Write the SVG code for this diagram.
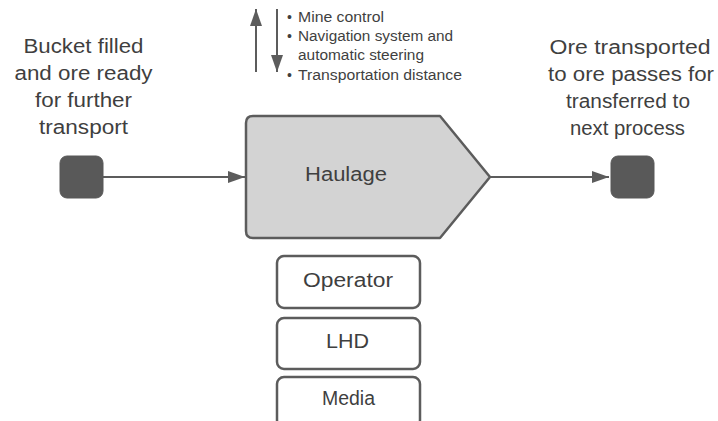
<svg xmlns="http://www.w3.org/2000/svg" width="718" height="421" viewBox="0 0 718 421">
  <defs>
    <style>
      text { font-family: "Liberation Sans", Arial, sans-serif; fill: #3f3f3f; }
      .lbl { font-size: 20px; text-anchor: middle; }
      .note { font-size: 14px; }
      .term { fill: #595959; stroke: #595959; stroke-width: 1; }
      .box { fill: #ffffff; stroke: #5c5c5c; stroke-width: 2.5; }
      .proc { fill: #d3d3d3; stroke: #5c5c5c; stroke-width: 2.5; stroke-linejoin: round; }
      .conn { stroke: #5c5c5c; stroke-width: 2; fill: none; }
    </style>
    <marker id="arr" viewBox="0 0 17 12" refX="17" refY="6" markerWidth="17" markerHeight="12" markerUnits="userSpaceOnUse" orient="auto">
      <path d="M0,0 L17,6 L0,12 Z" fill="#5c5c5c"/>
    </marker>
  </defs>

  <rect width="718" height="421" fill="#ffffff"/>

  <!-- connectors -->
  <g id="connectors">
    <line class="conn" x1="103" y1="177" x2="245" y2="177" marker-end="url(#arr)"/>
    <line class="conn" x1="490" y1="177" x2="609" y2="177" marker-end="url(#arr)"/>
    <line class="conn" x1="256" y1="72" x2="256" y2="9" marker-end="url(#arr)"/>
    <line class="conn" x1="277" y1="9" x2="277" y2="72" marker-end="url(#arr)"/>
  </g>

  <!-- start terminal -->
  <g id="start">
    <rect class="term" x="60" y="156" width="43" height="42" rx="7"/>
    <text class="lbl" x="83.5" y="53" textLength="120" lengthAdjust="spacingAndGlyphs">Bucket filled</text>
    <text class="lbl" x="83.5" y="80" textLength="138" lengthAdjust="spacingAndGlyphs">and ore ready</text>
    <text class="lbl" x="83.5" y="107" textLength="97" lengthAdjust="spacingAndGlyphs">for further</text>
    <text class="lbl" x="83.5" y="134" textLength="89" lengthAdjust="spacingAndGlyphs">transport</text>
  </g>

  <!-- end terminal -->
  <g id="end">
    <rect class="term" x="611" y="156" width="43" height="42" rx="7"/>
    <text class="lbl" x="630" y="54" textLength="161" lengthAdjust="spacingAndGlyphs">Ore transported</text>
    <text class="lbl" x="631" y="81" textLength="166" lengthAdjust="spacingAndGlyphs">to ore passes for</text>
    <text class="lbl" x="628" y="108" textLength="124" lengthAdjust="spacingAndGlyphs">transferred to</text>
    <text class="lbl" x="627.5" y="135" textLength="115" lengthAdjust="spacingAndGlyphs">next process</text>
  </g>

  <!-- haulage process -->
  <g id="haulage">
    <path class="proc" d="M253,116 L440,116 L490,177 L440,238 L253,238 Q246,238 246,231 L246,123 Q246,116 253,116 Z"/>
    <text class="lbl" x="346" y="181" textLength="82" lengthAdjust="spacingAndGlyphs">Haulage</text>
  </g>

  <!-- control notes -->
  <g id="notes">
    <text class="note" x="287" y="22">•</text>
    <text class="note" x="298" y="22" textLength="86" lengthAdjust="spacingAndGlyphs">Mine control</text>
    <text class="note" x="287" y="41">•</text>
    <text class="note" x="298" y="41" textLength="155" lengthAdjust="spacingAndGlyphs">Navigation system and</text>
    <text class="note" x="298" y="60" textLength="126" lengthAdjust="spacingAndGlyphs">automatic steering</text>
    <text class="note" x="287" y="80">•</text>
    <text class="note" x="298" y="80" textLength="164" lengthAdjust="spacingAndGlyphs">Transportation distance</text>
  </g>

  <!-- resources -->
  <g id="operator">
    <rect class="box" x="277" y="256" width="143" height="52" rx="7"/>
    <text class="lbl" x="348" y="287" textLength="90" lengthAdjust="spacingAndGlyphs">Operator</text>
  </g>
  <g id="lhd">
    <rect class="box" x="277" y="318" width="143" height="51" rx="7"/>
    <text class="lbl" x="347.5" y="348" textLength="43" lengthAdjust="spacingAndGlyphs">LHD</text>
  </g>
  <g id="media">
    <rect class="box" x="277" y="377" width="143" height="50" rx="7"/>
    <text class="lbl" x="348.5" y="405" textLength="53" lengthAdjust="spacingAndGlyphs">Media</text>
  </g>
</svg>
